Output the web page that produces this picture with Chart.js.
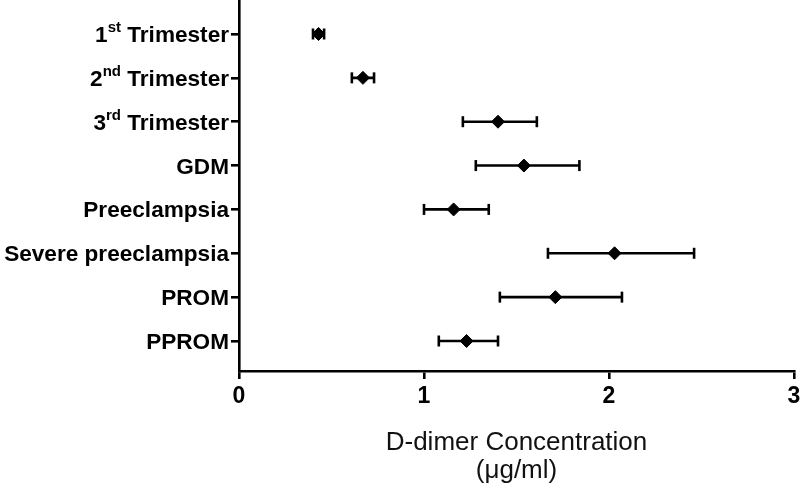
<!DOCTYPE html>
<html>
<head>
<meta charset="utf-8">
<script src="https://cdn.jsdelivr.net/npm/chart.js@4/dist/chart.umd.min.js"></script>
<style>
  html, body { margin: 0; padding: 0; background: #fff; }
  #wrap { width: 800px; height: 486px; position: relative; }
</style>
</head>
<body>
<div id="wrap"><canvas id="c"></canvas></div>
<script>
// ---- data ----
const categories = ['1st Trimester', '2nd Trimester', '3rd Trimester', 'GDM',
  'Preeclampsia', 'Severe preeclampsia', 'PROM', 'PPROM'];
const means = [0.43, 0.67, 1.40, 1.54, 1.16, 2.03, 1.71, 1.23];
const lower = [0.40, 0.61, 1.21, 1.28, 1.00, 1.67, 1.41, 1.08];
const upper = [0.46, 0.73, 1.61, 1.84, 1.35, 2.46, 2.07, 1.40];
const xTicks = [0, 1, 2, 3];
const xTitle = ['D-dimer Concentration', '(\u03bcg/ml)'];

const FONT = '"Liberation Sans", Arial, Helvetica, sans-serif';

const meanPts = means.map((v, i) => ({ x: v, y: i + 1 }));
const barPts = [];
lower.forEach((lo, i) => {
  barPts.push({ x: lo, y: i + 1 }, { x: upper[i], y: i + 1 }, { x: null, y: null });
});
const capPts = [];
lower.forEach((lo, i) => {
  capPts.push({ x: lo, y: i + 1 }, { x: upper[i], y: i + 1 });
});

// draws the category labels (with superscript ordinals) next to the y ticks
const yLabelPlugin = {
  id: 'yLabels',
  afterDraw(chart) {
    const ctx = chart.ctx;
    const ys = chart.scales.y;
    const right = ys.right - 10;
    const mainFont = 'bold 22.6px ' + FONT;
    const supFont = 'bold 15px ' + FONT;
    ctx.save();
    ctx.fillStyle = '#000';
    ctx.textBaseline = 'alphabetic';
    ctx.textAlign = 'left';
    categories.forEach((lab, i) => {
      const y = ys.getPixelForValue(i + 1) + 8;
      const m = lab.match(/^(\d+)(st|nd|rd|th)(.*)$/);
      let parts;
      if (m) parts = [{ t: m[1], sup: false }, { t: m[2], sup: true }, { t: m[3], sup: false }];
      else parts = [{ t: lab, sup: false }];
      let total = 0;
      parts.forEach(p => { ctx.font = p.sup ? supFont : mainFont; p.w = ctx.measureText(p.t).width; total += p.w; });
      let x = right - total;
      parts.forEach(p => {
        ctx.font = p.sup ? supFont : mainFont;
        ctx.fillText(p.t, x, p.sup ? y - 10 : y);
        x += p.w;
      });
    });
    ctx.restore();
  }
};

new Chart(document.getElementById('c'), {
  type: 'scatter',
  data: {
    datasets: [
      {
        label: 'mean',
        data: meanPts,
        pointStyle: 'rectRot',
        pointRadius: 6.5,
        backgroundColor: '#000',
        borderColor: '#000',
        borderWidth: 1,
        order: 0
      },
      {
        label: 'range',
        data: barPts,
        showLine: true,
        spanGaps: false,
        borderColor: '#000',
        borderWidth: 2.6,
        pointRadius: 0,
        order: 1
      },
      {
        label: 'caps',
        data: capPts,
        pointStyle: 'line',
        rotation: 90,
        pointRadius: 5.5,
        borderColor: '#000',
        borderWidth: 2.6,
        order: 2
      }
    ]
  },
  options: {
    responsive: true,
    maintainAspectRatio: false,
    animation: false,
    events: [],
    layout: { autoPadding: false, padding: { top: 0, right: 0, bottom: 2, left: 0 } },
    plugins: { legend: { display: false }, tooltip: { enabled: false } },
    scales: {
      x: {
        type: 'linear',
        min: 0,
        max: 3,
        afterBuildTicks: s => { s.ticks = xTicks.map(v => ({ value: v })); },
        afterFit: s => { s.height = 113; s.paddingRight = 6; s.paddingLeft = 0; },
        border: { display: true, color: '#000', width: 2.6 },
        grid: { display: true, drawOnChartArea: false, drawTicks: true, tickLength: 8, color: '#000', lineWidth: 2.6 },
        ticks: { color: '#000', padding: 4, font: { family: FONT, size: 23, weight: 'bold' } },
        title: {
          display: true,
          text: xTitle,
          color: '#111',
          padding: { top: 0, bottom: 0 },
          font: { family: FONT, size: 26, weight: 'normal', lineHeight: 1.05 }
        }
      },
      y: {
        type: 'linear',
        reverse: true,
        min: 0.225,
        max: 8.684,
        afterBuildTicks: s => { s.ticks = categories.map((c, i) => ({ value: i + 1 })); },
        afterFit: s => { s.width = 239; },
        border: { display: true, color: '#000', width: 2.6 },
        grid: { display: true, drawOnChartArea: false, drawTicks: true, tickLength: 8, color: '#000', lineWidth: 2.6 },
        ticks: { display: false }
      }
    }
  },
  plugins: [yLabelPlugin]
});
</script>
</body>
</html>
